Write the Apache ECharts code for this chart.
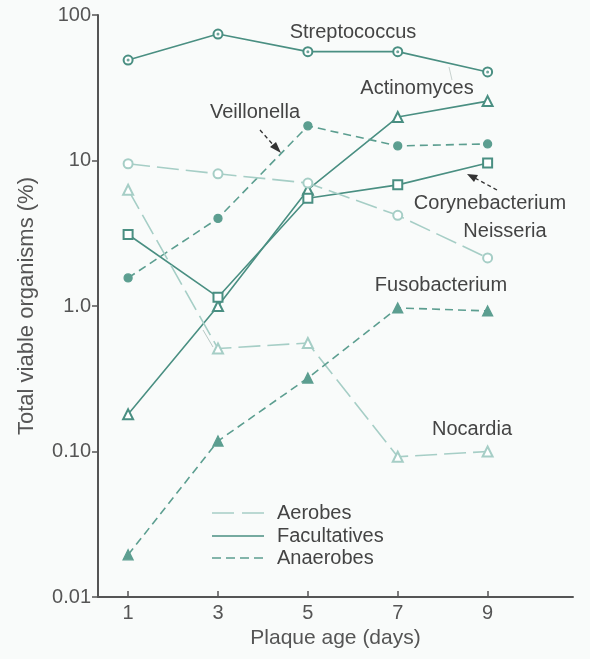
<!DOCTYPE html>
<html><head><meta charset="utf-8">
<script src="https://cdn.jsdelivr.net/npm/echarts@6/dist/echarts.min.js"></script>
<style>html,body{margin:0;padding:0;background:#f9fbfa}#c{width:590px;height:659px}</style>
</head><body><div id="c"></div>
<script>
const days = [1, 3, 5, 7, 9];
const yTickLabels = {"0.01": "0.01", "0.1": "0.10", "1": "1.0", "10": "10", "100": "100"};
const streptococcus = [49, 74, 56, 56, 40.6];
const actinomyces = [0.18, 1.0, 6.3, 19.9, 25.6];
const corynebacterium = [3.1, 1.15, 5.5, 6.8, 9.6];
const veillonella = [1.56, 4.0, 17.3, 12.6, 13.0];
const neisseria = [9.5, 8.1, 7.0, 4.2, 2.14];
const nocardia = [6.3, 0.51, 0.557, 0.092, 0.10];
const fusobacterium = [0.0195, 0.118, 0.32, 0.97, 0.925];

const FAC = '#4a8f82', ANA = '#5c9e90', AER = '#a6cec6';
const AER_DASH = [22, 7], ANA_DASH = [8, 5];
const pairs = arr => days.map((d, i) => [d, arr[i]]);

function ser(name, arr, color, dash, symbol, size, width) {
  return {
    name, type: 'line', data: pairs(arr), symbol, symbolSize: size,
    lineStyle: {color, width: width || 1.6, type: dash},
    itemStyle: {color, borderColor: color, borderWidth: 1.3},
    emphasis: {disabled: true}, z: 3
  };
}

const chart = echarts.init(document.getElementById('c'));
const FONT = 'Liberation Sans, Arial, sans-serif';
const LBL = '20px ' + FONT;
chart.setOption({
  backgroundColor: '#f9fbfa',
  animation: false,
  grid: {left: 98, right: 17, top: 15, bottom: 62},
  xAxis: {
    type: 'value', min: 0.33, max: 10.9,
    name: 'Plaque age (days)', nameLocation: 'middle', nameGap: 28,
    nameTextStyle: {fontFamily: FONT, fontSize: 21, color: '#555'},
    axisLine: {lineStyle: {color: '#555', width: 2}},
    axisTick: {show: true, inside: true, length: 6, lineStyle: {color: '#555', width: 1.5}, customValues: days},
    axisLabel: {fontFamily: FONT, fontSize: 20, color: '#555', margin: 6, customValues: days},
    splitLine: {show: false}
  },
  yAxis: {
    type: 'log', logBase: 10, min: 0.01, max: 100,
    name: 'Total viable organisms (%)', nameLocation: 'middle', nameGap: 60,
    nameTextStyle: {fontFamily: FONT, fontSize: 22, color: '#555'},
    axisLine: {show: true, lineStyle: {color: '#555', width: 2}},
    axisTick: {show: true, length: 6, lineStyle: {color: '#555', width: 1.5}},
    axisLabel: {fontFamily: FONT, fontSize: 20, color: '#555', margin: 7,
      formatter: v => yTickLabels[String(+v.toPrecision(3))] || ''},
    splitLine: {show: false}
  },
  series: [
    ser('Streptococcus', streptococcus, FAC, 'solid', 'emptyCircle', 9),
    {type: 'scatter', data: pairs(streptococcus), symbol: 'circle', symbolSize: 3,
     itemStyle: {color: FAC}, z: 4, silent: true},
    ser('Actinomyces', actinomyces, FAC, 'solid', 'emptyTriangle', 10),
    ser('Corynebacterium', corynebacterium, FAC, 'solid', 'emptyRect', 9),
    ser('Veillonella', veillonella, ANA, ANA_DASH, 'circle', 8),
    ser('Neisseria', neisseria, AER, AER_DASH, 'emptyCircle', 9),
    ser('Nocardia', nocardia, AER, AER_DASH, 'emptyTriangle', 10),
    ser('Fusobacterium', fusobacterium, ANA, ANA_DASH, 'triangle', 10)
  ],
  graphic: [
    ...[['Streptococcus', 353, 32], ['Actinomyces', 417, 88], ['Veillonella', 255, 112],
        ['Corynebacterium', 490, 203], ['Neisseria', 505, 231], ['Fusobacterium', 441, 285],
        ['Nocardia', 472, 429]].map(([t, x, y]) => ({
      type: 'text', x, y, style: {text: t, fill: '#444', font: LBL, align: 'center', verticalAlign: 'middle'}
    })),
    {type: 'line', shape: {x1: 449, y1: 67, x2: 452, y2: 80}, style: {stroke: '#c8d2cf', lineWidth: 1}},
    {type: 'line', shape: {x1: 203, y1: 330, x2: 213, y2: 347}, style: {stroke: '#b8c8c4', lineWidth: 1}},
    {type: 'line', shape: {x1: 260, y1: 130, x2: 276, y2: 148}, style: {stroke: '#333', lineWidth: 1.3, lineDash: [4, 3]}},
    {type: 'polygon', shape: {points: [[281, 153], [270, 147], [276, 142]]}, style: {fill: '#333'}},
    {type: 'line', shape: {x1: 497, y1: 190, x2: 473, y2: 177}, style: {stroke: '#333', lineWidth: 1.3, lineDash: [4, 3]}},
    {type: 'polygon', shape: {points: [[467, 174], [478, 175], [474, 182]]}, style: {fill: '#333'}},
    {type: 'line', shape: {x1: 212, y1: 513, x2: 264, y2: 513}, style: {stroke: AER, lineWidth: 1.6, lineDash: [22, 8]}},
    {type: 'line', shape: {x1: 212, y1: 536, x2: 264, y2: 536}, style: {stroke: FAC, lineWidth: 1.6}},
    {type: 'line', shape: {x1: 212, y1: 558, x2: 264, y2: 558}, style: {stroke: ANA, lineWidth: 1.6, lineDash: [9, 5]}},
    ...[['Aerobes', 513], ['Facultatives', 536], ['Anaerobes', 558]].map(([t, y]) => ({
      type: 'text', x: 277, y, style: {text: t, fill: '#444', font: LBL, verticalAlign: 'middle'}
    }))
  ]
});
</script></body></html>
